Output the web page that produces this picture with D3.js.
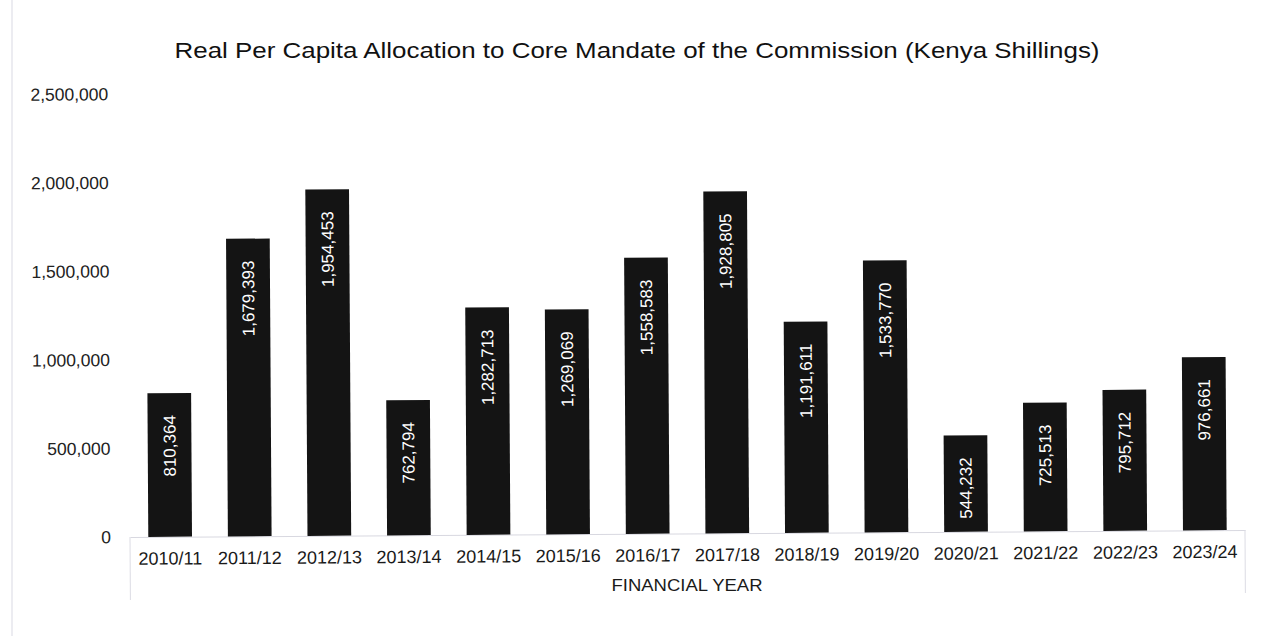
<!DOCTYPE html>
<html>
<head>
<meta charset="utf-8">
<script src="https://cdn.jsdelivr.net/npm/d3@7"></script>
<style>
  body { margin: 0; background: #fff; }
  text { font-family: "Liberation Sans", Arial, sans-serif; }
</style>
</head>
<body>
<script>
// data
var years = ["2010/11","2011/12","2012/13","2013/14","2014/15","2015/16","2016/17",
             "2017/18","2018/19","2019/20","2020/21","2021/22","2022/23","2023/24"];
var allocation = [810364, 1679393, 1954453, 762794, 1282713, 1269069, 1558583,
                  1928805, 1191611, 1533770, 544232, 725513, 795712, 976661];
var yTicks = [0, 500000, 1000000, 1500000, 2000000, 2500000];

var W = 1267, H = 636;
var svg = d3.select("body").append("svg")
            .attr("width", W)
            .attr("height", H);

// faint outer frame of the scanned page
svg.append("line")
   .attr("x1", 12).attr("y1", 0).attr("x2", 12).attr("y2", H)
   .attr("stroke", "#e6e6ec").attr("stroke-width", 1.5);

// the scan is tilted a little, right side higher
var g = svg.append("g")
   .attr("transform", "rotate(-0.36,130,537)");

var x = d3.scaleBand()
          .domain(years)
          .range([130, 1245])
          .paddingInner(0.451)
          .paddingOuter(0.23);

var y = d3.scaleLinear()
          .domain([0, 2500000])
          .range([537, 94]);

var fmt = d3.format(",");

// y tick labels (no axis line)
g.append("g").selectAll("text")
   .data(yTicks)
   .enter().append("text")
   .attr("x", 111)
   .attr("y", function(d){ return y(d); })
   .attr("dy", "0.35em")
   .attr("text-anchor", "end")
   .style("font-size", "17.5px")
   .style("fill", "#222")
   .text(function(d){ return fmt(d); });

// x axis: light box under the categories
var xAxis = d3.axisBottom(x).tickSize(0).tickPadding(15);
var gx = g.append("g")
   .attr("transform", "translate(0,537)")
   .call(xAxis);
gx.select(".domain").attr("stroke", "#d8d8e0");
gx.selectAll("text")
  .style("font-size", "18px")
  .style("fill", "#1a1a1a")
  .style("font-family", "'Liberation Sans', Arial, sans-serif");

g.append("line")
   .attr("x1", 130).attr("y1", 537).attr("x2", 130).attr("y2", 600)
   .attr("stroke", "#dcdce4");
g.append("line")
   .attr("x1", 1245).attr("y1", 537).attr("x2", 1245).attr("y2", 600)
   .attr("stroke", "#dcdce4");

// bars
g.append("g").selectAll("rect")
   .data(allocation)
   .enter().append("rect")
   .attr("x", function(d, i){ return x(years[i]); })
   .attr("y", function(d){ return y(d); })
   .attr("width", x.bandwidth())
   .attr("height", function(d){ return y(0) - y(d); })
   .style("fill", "#141414");

// value labels, rotated inside the bars
g.append("g").selectAll("text")
   .data(allocation)
   .enter().append("text")
   .attr("transform", function(d, i){
      var cx = x(years[i]) + x.bandwidth() / 2;
      return "translate(" + cx + "," + (y(d) + 22) + ") rotate(-90)";
   })
   .attr("dy", "0.35em")
   .attr("text-anchor", "end")
   .style("font-size", "17px")
   .style("fill", "#fff")
   .text(function(d){ return fmt(d); });

// title
svg.append("text")
   .attr("x", 637)
   .attr("y", 58)
   .attr("text-anchor", "middle")
   .attr("textLength", 925)
   .attr("lengthAdjust", "spacingAndGlyphs")
   .style("font-size", "22px")
   .style("fill", "#111")
   .text("Real Per Capita Allocation to Core Mandate of the Commission (Kenya Shillings)");

// x axis title
svg.append("text")
   .attr("x", 687)
   .attr("y", 591)
   .attr("text-anchor", "middle")
   .attr("textLength", 151)
   .attr("lengthAdjust", "spacingAndGlyphs")
   .style("font-size", "16px")
   .style("fill", "#1a1a1a")
   .text("FINANCIAL YEAR");
</script>
</body>
</html>
